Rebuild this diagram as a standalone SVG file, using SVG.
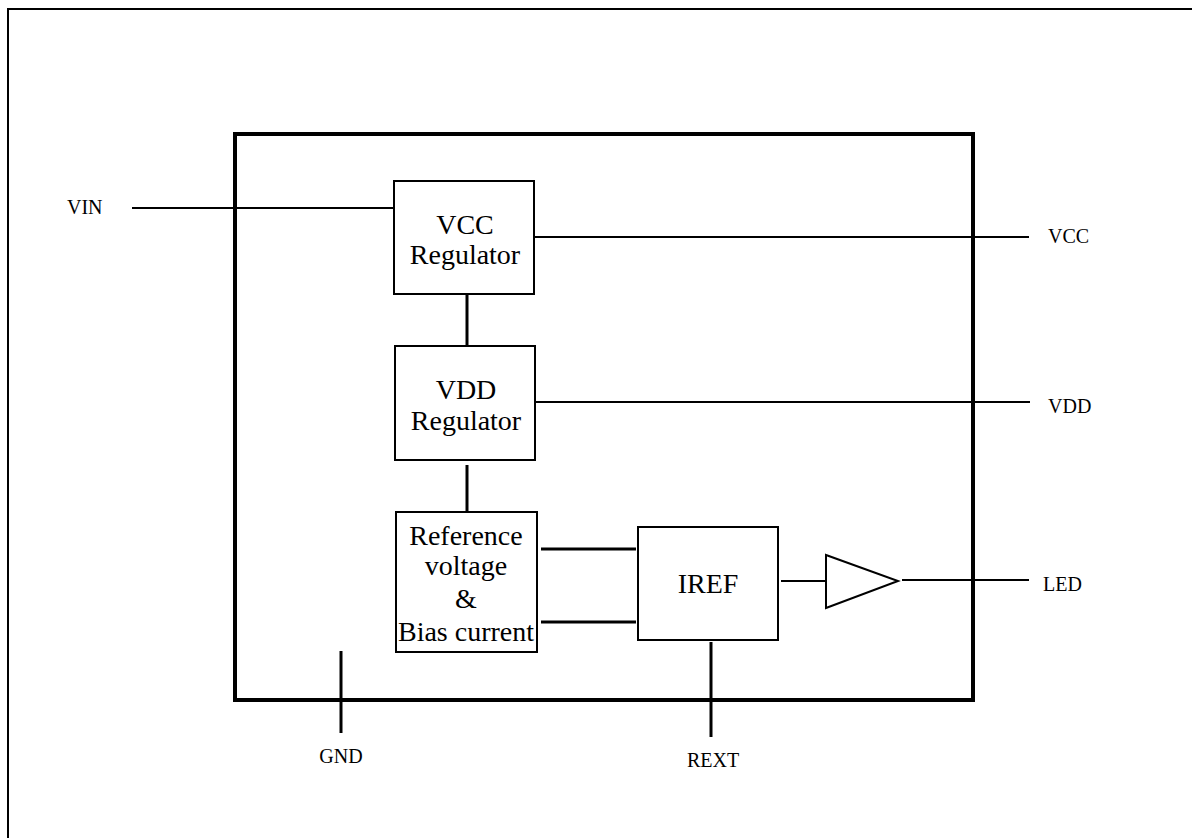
<svg xmlns="http://www.w3.org/2000/svg" width="1192" height="838" viewBox="0 0 1192 838">
<style>
.blk{fill:#fff;stroke:#000;stroke-width:2}
.w{stroke:#000;stroke-width:2;fill:none}
.t{stroke:#000;stroke-width:3;fill:none}
.in{font-family:"Liberation Serif","Times New Roman",serif;font-size:28px;text-anchor:middle;fill:#000}
.lb{font-family:"Liberation Serif","Times New Roman",serif;font-size:20px;fill:#000}
</style>
<rect width="1192" height="838" fill="#fff"/>
<rect id="frame" x="8" y="9" width="1200" height="850" fill="none" stroke="#000" stroke-width="2"/>
<g id="chip"><rect x="235" y="134" width="738" height="566" fill="none" stroke="#000" stroke-width="4"/></g>
<g id="connectors">
<line class="w" x1="132" y1="208" x2="394" y2="208"/>
<line class="w" x1="534" y1="237" x2="1029" y2="237"/>
<line class="w" x1="535" y1="402" x2="1030" y2="402"/>
<line class="t" x1="467" y1="294" x2="467" y2="346"/>
<line class="t" x1="467" y1="465" x2="467" y2="512"/>
<line class="t" x1="541" y1="549" x2="636" y2="549"/>
<line class="t" x1="541" y1="622" x2="636" y2="622"/>
<line class="w" x1="781" y1="581" x2="826" y2="581"/>
<line class="w" x1="902" y1="580" x2="1029" y2="580"/>
<line class="t" x1="341" y1="651" x2="341" y2="733"/>
<line class="t" x1="711" y1="642" x2="711" y2="737"/>
</g>
<g id="vcc_reg"><rect class="blk" x="394" y="181" width="140" height="113"/>
<text class="in" x="465" y="234">VCC</text><text class="in" x="465" y="264">Regulator</text></g>
<g id="vdd_reg"><rect class="blk" x="395" y="346" width="140" height="114"/>
<text class="in" x="466" y="399">VDD</text><text class="in" x="466" y="430">Regulator</text></g>
<g id="ref"><rect class="blk" x="396" y="512" width="141" height="140"/>
<text class="in" x="466" y="545">Reference</text><text class="in" x="466" y="575">voltage</text><text class="in" x="466" y="608">&amp;</text><text class="in" x="466" y="641">Bias current</text></g>
<g id="iref"><rect class="blk" x="638" y="527" width="140" height="113"/>
<text class="in" x="708" y="593">IREF</text></g>
<g id="buffer"><polygon points="826,555 826,608 898,581" fill="#fff" stroke="#000" stroke-width="2"/></g>
<g id="labels">
<text class="lb" x="67" y="214">VIN</text>
<text class="lb" x="1048" y="243">VCC</text>
<text class="lb" x="1048" y="413">VDD</text>
<text class="lb" x="1043" y="591">LED</text>
<text class="lb" x="341" y="763" text-anchor="middle">GND</text>
<text class="lb" x="713" y="767" text-anchor="middle">REXT</text>
</g>
</svg>
